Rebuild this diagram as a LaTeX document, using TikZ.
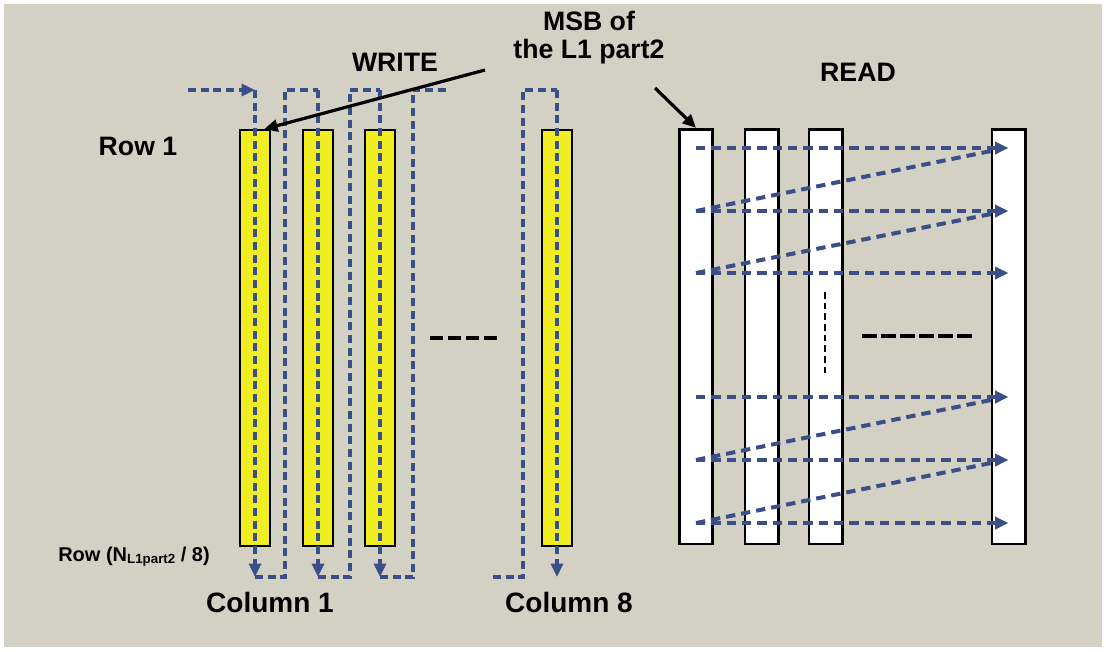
\documentclass[tikz,border=0pt]{standalone}
\usepackage{fontspec}
\setmainfont{Liberation Sans}
\usetikzlibrary{arrows.meta}

\definecolor{paper}{HTML}{D3D1C4}
\definecolor{dashblue}{HTML}{3A4E88}
\definecolor{colyellow}{HTML}{F0EE22}

\tikzset{
  wcol/.style={draw=black, line width=1.4pt, fill=colyellow, minimum width=23pt, minimum height=312pt, inner sep=0pt},
  rcol/.style={draw=black, line width=2pt, fill=white, minimum width=25pt, minimum height=311pt, inner sep=0pt},
  wpath/.style={draw=dashblue, line width=2.4pt, dash pattern=on 6pt off 3.5pt},
  rpath/.style={draw=dashblue, line width=3pt, dash pattern=on 7pt off 4.5pt},
  arrowed/.style={-{Triangle[length=10pt,width=9pt]}},
  msbarrow/.style={draw=black, line width=2.4pt, -{Triangle[length=10pt,width=9pt]}},
  gapdash/.style={draw=black, line width=3pt},
  lbl/.style={font=\bfseries\fontsize{20}{21}\selectfont, inner sep=1pt},
  collbl/.style={font=\bfseries\fontsize{21}{22}\selectfont, inner sep=1pt},
  smalllbl/.style={font=\bfseries\fontsize{15}{16}\selectfont, inner sep=1pt},
}

\begin{document}
\begin{tikzpicture}[x=0.75pt, y=-0.75pt]
    \fill[white] (0,0) rectangle (1106,651);
    \fill[paper] (4,4) rectangle (1102,647);
    \useasboundingbox (0,0) rectangle (1106,651);

    % write side
    \node[wcol] (col1) at (255,338) {};
    \node[wcol] (col2) at (318,338) {};
    \node[wcol] (col3) at (380,338) {};
    \node[wcol] (col8) at (557,338) {};

    % read side
    \node[rcol] (rd1) at (696,336.5) {};
    \node[rcol] (rd2) at (761.5,336.5) {};
    \node[rcol] (rd3) at (825.5,336.5) {};
    \node[rcol] (rdn) at (1008.5,336.5) {};

    \coordinate (wtop) at (0,90);
    \coordinate (wbot) at (0,577);
    \coordinate (win) at (188,90);
    \coordinate (wout) at (447,90);
    \coordinate (win8) at (493,577);
    \coordinate (lnk1) at (285,0);
    \coordinate (lnk2) at (350,0);
    \coordinate (lnk3) at (413,0);
    \coordinate (lnk8) at (523,0);

    \draw[wpath, arrowed] (win) -- (col1 |- wtop);
    \foreach \c in {col1,col2,col3,col8}
        \draw[wpath, arrowed] (\c |- wtop) -- (\c |- wbot);
    \draw[wpath] (col1 |- wbot) -- (lnk1 |- wbot) -- (lnk1 |- wtop) -- (col2 |- wtop);
    \draw[wpath] (col2 |- wbot) -- (lnk2 |- wbot) -- (lnk2 |- wtop) -- (col3 |- wtop);
    \draw[wpath] (col3 |- wbot) -- (lnk3 |- wbot) -- (lnk3 |- wtop) -- (wout);
    \draw[wpath] (win8) -- (lnk8 |- wbot) -- (lnk8 |- wtop) -- (col8 |- wtop);

    % rows of the read side
    \foreach \y [count=\i] in {148,211,273,397,460,523}
        \coordinate (row\i) at (0,\y);
    \coordinate (rjoin) at (996,0);
    \foreach \i in {1,...,6}
        \draw[rpath, arrowed] (rd1 |- row\i) -- (rdn |- row\i);
    \foreach \a/\b in {2/1,3/2,5/4,6/5}
        \draw[rpath] (rd1 |- row\a) -- ([yshift=-1.5pt]rjoin |- row\b);

    % gaps
    \coordinate (gapl) at (430,338);
    \coordinate (gapr) at (497,338);
    \draw[gapdash, dash pattern=on 9.75pt off 3.75pt] (gapl) -- (gapr);
    \coordinate (gapm) at (862,336);
    \coordinate (gapn) at (972,336);
    \draw[gapdash, dash pattern=on 11.25pt off 3pt] (gapm) -- (gapn);
    \coordinate (vgapt) at (825,292);
    \coordinate (vgapb) at (825,377);
    \draw[black, line width=1.5pt, dash pattern=on 5pt off 3pt] (vgapt) -- (vgapb);

    % labels
    \node[lbl] (rowone) at (138,146) {Row 1};
    \node[lbl] (write) at (395,62) {WRITE};
    \node[lbl, align=center] (msb) at (589,38) {MSB of\\the L1 part2};
    \node[lbl] (read) at (858,72) {READ};
    \node[collbl] (c1lbl) at (270,602) {Column 1};
    \node[collbl] (c8lbl) at (569,602) {Column 8};
    \node[smalllbl] (rowlast) at (134,557) {Row (N\raisebox{-1.5pt}{\fontsize{10}{10}\selectfont L1part2} / 8)};

    % pointers to the MSB
    \coordinate (msbfrom) at (485,70);
    \coordinate (msbfromr) at (655,88);
    \draw[msbarrow] (msbfrom) -- ([xshift=7pt]col1.north);
    \draw[msbarrow] (msbfromr) -- (rd1.north);
\end{tikzpicture}
\end{document}
